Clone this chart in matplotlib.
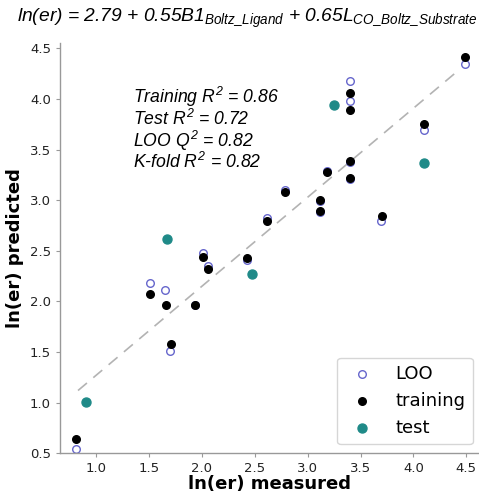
import matplotlib.pyplot as plt

plt.rcParams['mathtext.fontset'] = 'custom'
plt.rcParams['mathtext.it'] = 'Liberation Sans:italic'
plt.rcParams['mathtext.rm'] = 'Liberation Sans:italic'

# measured / predicted ln(er)
train_x = [0.81, 1.51, 1.66, 1.71, 1.94, 2.01, 2.06, 2.43, 2.62, 2.79,
           3.12, 3.12, 3.18, 3.40, 3.40, 3.40, 3.40, 3.70, 4.10, 4.49]
train_y = [0.64, 2.07, 1.96, 1.58, 1.96, 2.44, 2.32, 2.43, 2.79, 3.08,
           3.00, 2.89, 3.28, 3.22, 3.39, 3.89, 4.06, 2.84, 3.75, 4.41]
loo_x = [0.81, 1.51, 1.65, 1.70, 1.94, 2.01, 2.06, 2.43, 2.62, 2.79,
         3.12, 3.12, 3.18, 3.40, 3.40, 3.40, 3.40, 3.69, 4.10, 4.49]
loo_y = [0.54, 2.18, 2.11, 1.51, 1.96, 2.48, 2.35, 2.41, 2.82, 3.10,
         2.99, 2.88, 3.29, 3.21, 3.38, 3.98, 4.18, 2.79, 3.69, 4.35]
test_x = [0.91, 1.67, 2.47, 3.25, 4.10]
test_y = [1.01, 2.62, 2.27, 3.94, 3.37]

fit_x = [0.83, 4.40]
fit_y = [1.12, 4.26]

stats = ["Training $R^2$ = 0.86", "Test $R^2$ = 0.72",
         "LOO $Q^2$ = 0.82", "K-fold $R^2$ = 0.82"]

fig = plt.figure(figsize=(4.79, 4.92), dpi=100)
ax = fig.add_axes([0.1253, 0.0787, 0.8747, 0.8333])

ax.plot(fit_x, fit_y, color='#b3b3b3', ls=(0, (7, 5)), lw=1.2, zorder=1)
ax.scatter(loo_x, loo_y, s=30, facecolors='white', edgecolors='#6666cc',
           linewidths=1.0, label='LOO', zorder=2)
ax.scatter(train_x, train_y, s=30, color='black', label='training', zorder=3)
ax.scatter(test_x, test_y, s=42, color='#1f8a88', label='test', zorder=4)

ax.set_xlim(0.66, 4.62)
ax.set_ylim(0.5, 4.55)
ax.set_xticks([1.0, 1.5, 2.0, 2.5, 3.0, 3.5, 4.0, 4.5])
ax.set_yticks([0.5, 1.0, 1.5, 2.0, 2.5, 3.0, 3.5, 4.0, 4.5])

for s in ['top', 'right']:
    ax.spines[s].set_visible(False)
for s in ['left', 'bottom']:
    ax.spines[s].set_color('#999999')
    ax.spines[s].set_linewidth(1.0)
ax.tick_params(colors='#999999', labelcolor='#222222', labelsize=9.5, length=3)

ax.set_xlabel('ln(er) measured', fontsize=13, fontweight='bold', labelpad=0)
ax.set_ylabel('ln(er) predicted', fontsize=13, fontweight='bold', labelpad=4)

for i, line in enumerate(stats):
    ax.text(0.175, 0.854 - i * 0.053, line, transform=ax.transAxes, fontsize=12.7,
            family='Liberation Sans', style='italic', va='baseline')

fig.text(0.517, 0.962,
         r"$ln(er)$ = 2.79 + 0.55$B1_{Boltz\_Ligand}$ + 0.65$L_{CO\_Boltz\_Substrate}$",
         ha='center', va='center', fontsize=13.9, family='Liberation Sans', style='italic')

ax.legend(loc='lower right', fontsize=13, handletextpad=0.85, borderpad=0.4,
          labelspacing=0.5, bbox_to_anchor=(1.007, 0.0))

fig.savefig('out.png', dpi=100)
